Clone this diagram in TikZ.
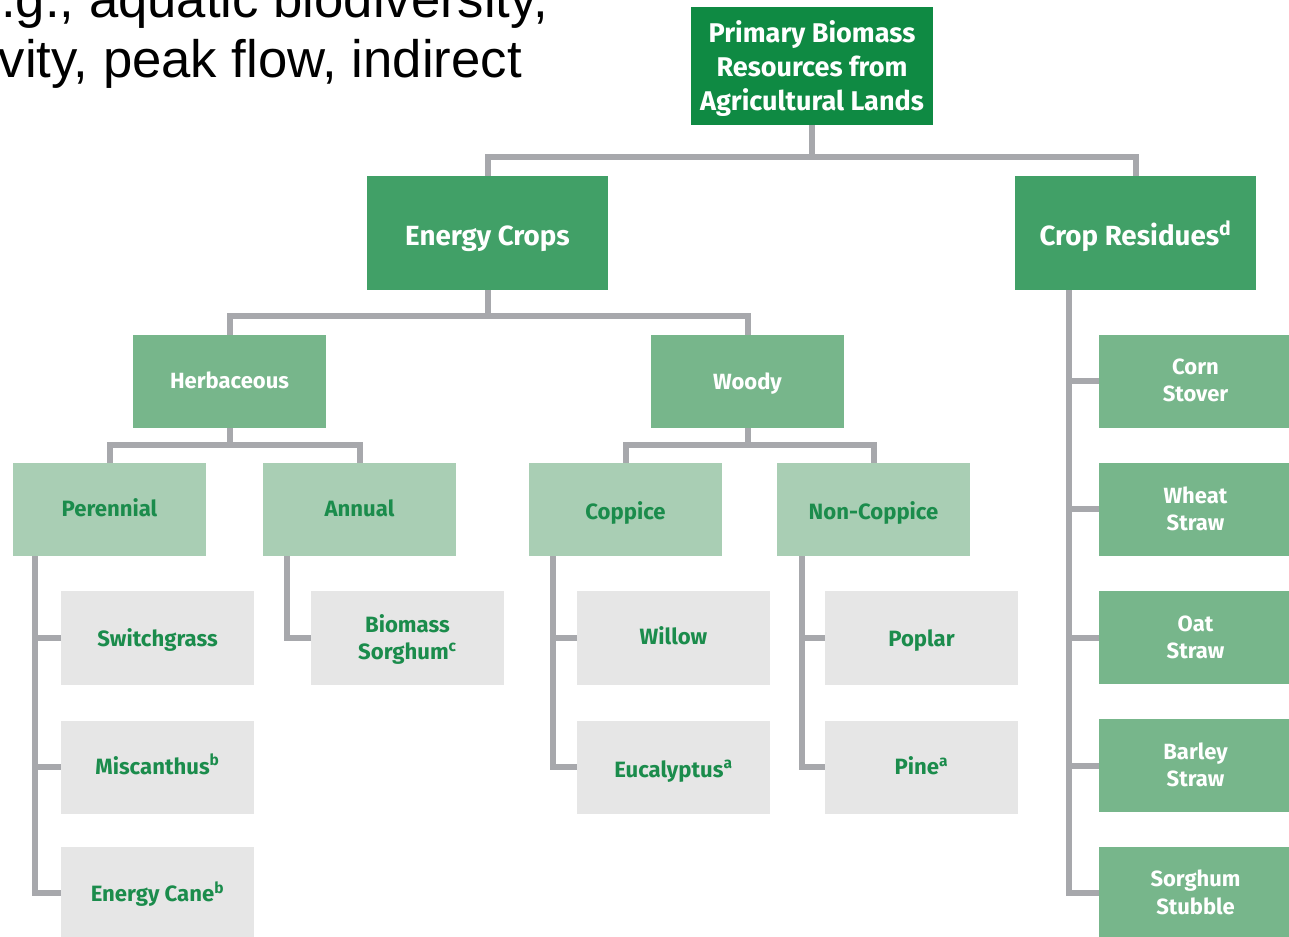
\documentclass[tikz,border=0pt]{standalone}
\usepackage{fontspec}
\setmainfont{Fira Sans}
\newfontfamily\arialfont{Liberation Sans}
\definecolor{cTop}{HTML}{0F8A43}
\definecolor{cMid}{HTML}{41A067}
\definecolor{cLow}{HTML}{77B68B}
\definecolor{cLight}{HTML}{A9CEB4}
\definecolor{cLeaf}{HTML}{E6E6E6}
\definecolor{cTxt}{HTML}{1B8C4C}
\definecolor{cLine}{HTML}{A7A8AC}
\newcommand{\dn}[2]{\raisebox{#1}[\height][\depth]{\begin{tabular}{@{}c@{}}#2\end{tabular}}}
\tikzset{
  bx/.style={rectangle, inner sep=0pt, align=center, font=\bfseries},
  topbox/.style={bx, fill=cTop, text=white, minimum width=181.5pt, minimum height=88.5pt,
     font=\fontsize{20.3}{25.5}\selectfont\bfseries},
  midbox/.style={bx, fill=cMid, text=white, minimum width=180.75pt, minimum height=85.5pt,
     font=\fontsize{20.8}{24}\selectfont\bfseries},
  lowbox/.style={bx, fill=cLow, text=white, minimum width=144.75pt, minimum height=69.75pt,
     font=\fontsize{16.5}{20.5}\selectfont\bfseries},
  lightbox/.style={bx, fill=cLight, text=cTxt, minimum width=144.75pt, minimum height=69.75pt,
     font=\fontsize{16.6}{20.5}\selectfont\bfseries},
  leafbox/.style={bx, fill=cLeaf, text=cTxt, minimum width=144.75pt, minimum height=69.75pt,
     font=\fontsize{16.6}{20.5}\selectfont\bfseries},
  resbox/.style={bx, fill=cLow, text=white, minimum width=144.75pt, minimum height=69.75pt,
     font=\fontsize{16.5}{20.5}\selectfont\bfseries},
  conn/.style={draw=cLine, line width=4.5pt},
  bgtext/.style={inner sep=0pt, font=\arialfont\fontsize{39.5}{45}\selectfont, text=black}
}
\begin{document}
\begin{tikzpicture}[x=0.75pt,y=-0.75pt]
\useasboundingbox (0,0) rectangle (1289,937);
\clip (0,0) rectangle (1289,937);
\fill[white] (0,0) rectangle (1289,937);

% background slide text
\node[bgtext, anchor=base east] (t1) at (548,18) {.g., aquatic biodiversity,};
\node[bgtext, anchor=base east] (t2) at (522,78) {vity, peak flow, indirect};

\coordinate (lvl1) at (0,157);
\coordinate (lvl2) at (0,316);
\coordinate (lvl3) at (0,445);

% nodes
\node[topbox] (top) at (812,66) {\dn{-3pt}{Primary Biomass\\Resources from\\Agricultural Lands}};
\node[midbox] (ec) at (487.5,233) {\dn{-4.5pt}{Energy Crops}};
\node[midbox] (cr) at (1135.5,233) {\dn{-3.5pt}{Crop Residues\textsuperscript{d}}};

\node[lowbox] (herb) at (229.5,381.5) {\dn{-0.8pt}{Herbaceous}};
\node[lowbox] (woody) at (747.5,381.5) {\dn{-2pt}{Woody}};

\node[lightbox] (per) at (109.5,509.5) {\dn{-0.8pt}{Perennial}};
\node[lightbox] (ann) at (359.5,509.5) {\dn{-1.5pt}{Annual}};
\node[lightbox] (cop) at (625.5,509.5) {\dn{-3.5pt}{Coppice}};
\node[lightbox] (ncop) at (873.5,509.5) {\dn{-3.5pt}{Non-Coppice}};

\node[leafbox] (sw) at (157.5,638) {\dn{-2pt}{Switchgrass}};
\node[leafbox] (mis) at (157.5,767) {\dn{-0.8pt}{Miscanthus\textsuperscript{b}}};
\node[leafbox] (cane) at (157.5,893) {\dn{-2pt}{Energy Cane\textsuperscript{b}}};
\node[leafbox] (bs) at (407.5,638) {\dn{-2pt}{Biomass\\Sorghum\textsuperscript{c}}};
\node[leafbox] (wil) at (673.5,638) {\dn{-0.8pt}{Willow}};
\node[leafbox] (euc) at (673.5,767) {\dn{-3.5pt}{Eucalyptus\textsuperscript{a}}};
\node[leafbox] (pop) at (921.5,638) {\dn{-2pt}{Poplar}};
\node[leafbox] (pine) at (921.5,767) {\dn{-1.5pt}{Pine\textsuperscript{a}}};

\node[resbox] (corn) at (1195.5,381.5) {\dn{-1pt}{Corn\\Stover}};
\node[resbox] (wheat) at (1195.5,509.5) {\dn{-1.5pt}{Wheat\\Straw}};
\node[resbox] (oat) at (1195.5,637.5) {\dn{-1.5pt}{Oat\\Straw}};
\node[resbox] (barley) at (1195.5,765.5) {\dn{-1.5pt}{Barley\\Straw}};
\node[resbox] (sorg) at (1195.5,893) {\dn{-1.5pt}{Sorghum\\Stubble}};

% connectors
\draw[conn] (top.south) -- (top.south |- lvl1) -| (ec.north);
\draw[conn] (top.south |- lvl1) -| (cr.north);
\draw[conn] (ec.south) -- (ec.south |- lvl2) -| (herb.north);
\draw[conn] (ec.south |- lvl2) -| (woody.north);
\draw[conn] (herb.south) -- (herb.south |- lvl3) -| (per.north);
\draw[conn] (herb.south |- lvl3) -| (ann.north);
\draw[conn] (woody.south) -- (woody.south |- lvl3) -| (cop.north);
\draw[conn] (woody.south |- lvl3) -| (ncop.north);

\coordinate (perx) at (35,556);
\coordinate (annx) at (287,556);
\coordinate (copx) at (553,556);
\coordinate (ncopx) at (802,556);
\coordinate (crx) at (1069,290);
\draw[conn] (per.south -| perx) |- (cane.west);
\draw[conn] (per.south -| perx) |- (sw.west);
\draw[conn] (per.south -| perx) |- (mis.west);
\draw[conn] (ann.south -| annx) |- (bs.west);
\draw[conn] (cop.south -| copx) |- (euc.west);
\draw[conn] (cop.south -| copx) |- (wil.west);
\draw[conn] (ncop.south -| ncopx) |- (pine.west);
\draw[conn] (ncop.south -| ncopx) |- (pop.west);
\draw[conn] (cr.south -| crx) |- (sorg.west);
\draw[conn] (cr.south -| crx) |- (corn.west);
\draw[conn] (cr.south -| crx) |- (wheat.west);
\draw[conn] (cr.south -| crx) |- (oat.west);
\draw[conn] (cr.south -| crx) |- (barley.west);
\end{tikzpicture}
\end{document}
